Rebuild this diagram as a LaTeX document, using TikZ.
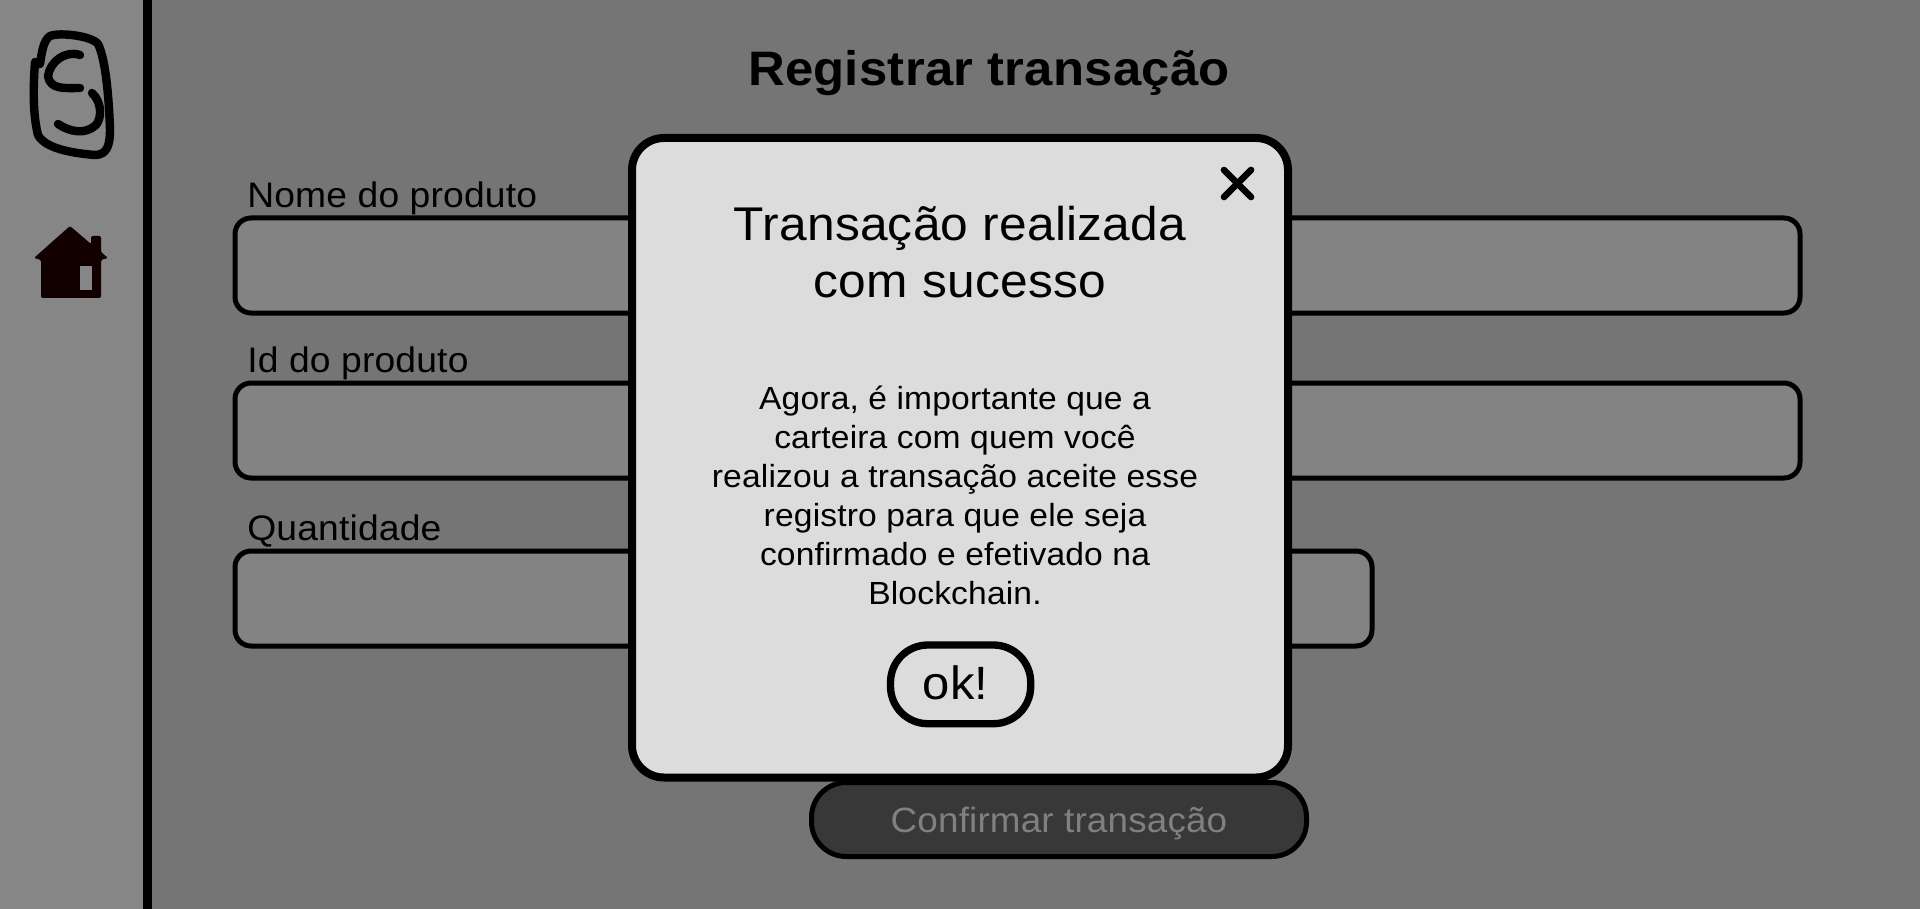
\documentclass[tikz,border=0pt]{standalone}
\usepackage{fontspec}
\setmainfont[FakeStretch=1.05,LetterSpace=.5]{Liberation Sans}
\usepackage{xcolor}
\definecolor{panelgray}{HTML}{868686}
\definecolor{maingray}{HTML}{757575}
\definecolor{inputgray}{HTML}{838383}
\definecolor{modalgray}{HTML}{DCDCDC}
\definecolor{btndark}{HTML}{383838}
\definecolor{btntext}{HTML}{808080}
\definecolor{homered}{HTML}{120000}
\tikzset{
  inputbox/.style={draw=black,fill=inputgray,line width=3.75pt,rounded corners=12pt},
  fieldlabel/.style={anchor=base west,inner sep=0pt,font=\fontsize{26.6}{30}\selectfont},
  logoline/.style={draw=black,line width=6.3pt,line cap=round,line join=round},
  closeline/.style={draw=black,line width=5pt,line cap=round}
}
\begin{document}
\begin{tikzpicture}[x=.75pt,y=-.75pt]
  \useasboundingbox (0,0) rectangle (1920,909);
  \fill[maingray] (0,0) rectangle (1920,909);
  \fill[panelgray] (0,0) rectangle (143,909);
  \fill[black] (143,0) rectangle (152,909);
  % logo
  \draw[logoline] (35,62) .. controls (33,90) and (33,115) .. (38,135) .. controls (45,148) and (70,153) .. (95,155)
    .. controls (107,155) and (110,145) .. (110,130) .. controls (109,100) and (106,60) .. (98,44)
    .. controls (92,36) and (60,32) .. (50,36) .. controls (44,40) and (42,50) .. (40,64);
  \draw[logoline] (80,55) .. controls (65,50) and (50,62) .. (48,76) .. controls (50,90) and (65,88) .. (80,88);
  \draw[logoline] (92,93) .. controls (102,102) and (102,118) .. (96,125) .. controls (85,135) and (70,132) .. (58,124);
  % home
  \fill[homered,rounded corners=1pt] (70,226) -- (91,244) -- (91,236) -- (101,236) -- (101,252) -- (108,258) -- (101,260)
    -- (101,298) -- (41,298) -- (41,260) -- (34,258) -- cycle;
  \fill[panelgray] (80,266) rectangle (92,290);
  % form
  \node[anchor=base,inner sep=0pt,font=\bfseries\fontsize{36.3}{42}\selectfont] (titulo) at (989,86) {Registrar transação};
  \node[fieldlabel] (lblnome) at (247,208) {Nome do produto};
  \draw[inputbox] (235,218) rectangle (1800,313);
  \node[fieldlabel] (lblid) at (247,372) {Id do produto};
  \draw[inputbox] (235,383) rectangle (1800,478);
  \node[fieldlabel] (lblqtd) at (247,540) {Quantidade};
  \draw[inputbox] (235,551) rectangle (1372,646);
  % botao
  \draw[fill=btndark,line width=3.75pt,rounded corners=26pt] (811.5,782.5) rectangle (1306.5,856.5);
  \node[anchor=base,inner sep=0pt,text=btntext,font=\fontsize{26.3}{30}\selectfont] (confirmar) at (1059,832.7) {Confirmar transação};
  % modal
  \draw[fill=modalgray,line width=6pt,rounded corners=24pt] (632,138) rectangle (1288,777.5);
  \node[align=center,inner sep=0pt,font=\fontsize{35.5}{43}\selectfont] (aviso) at (960,252) {Transação realizada\\com sucesso};
  \node[align=center,inner sep=0pt,font=\fontsize{24}{29.25}\selectfont] (texto) at (955,495.5) {Agora, é importante que a\\carteira com quem você\\realizou a transação aceite esse\\registro para que ele seja\\confirmado e efetivado na\\Blockchain.};
  \coordinate (xa) at (1224,170);
  \coordinate (xb) at (1251,197);
  \coordinate (xc) at (1251,170);
  \coordinate (xd) at (1224,197);
  \draw[closeline] (xa) -- (xb);
  \draw[closeline] (xc) -- (xd);
  \draw[fill=modalgray,line width=5.5pt,rounded corners=28pt] (890.5,645) rectangle (1030.7,723.7);
  \node[anchor=base,inner sep=0pt,font=\fontsize{35}{38}\selectfont] (okbtn) at (955.5,699) {ok!};
\end{tikzpicture}
\end{document}
